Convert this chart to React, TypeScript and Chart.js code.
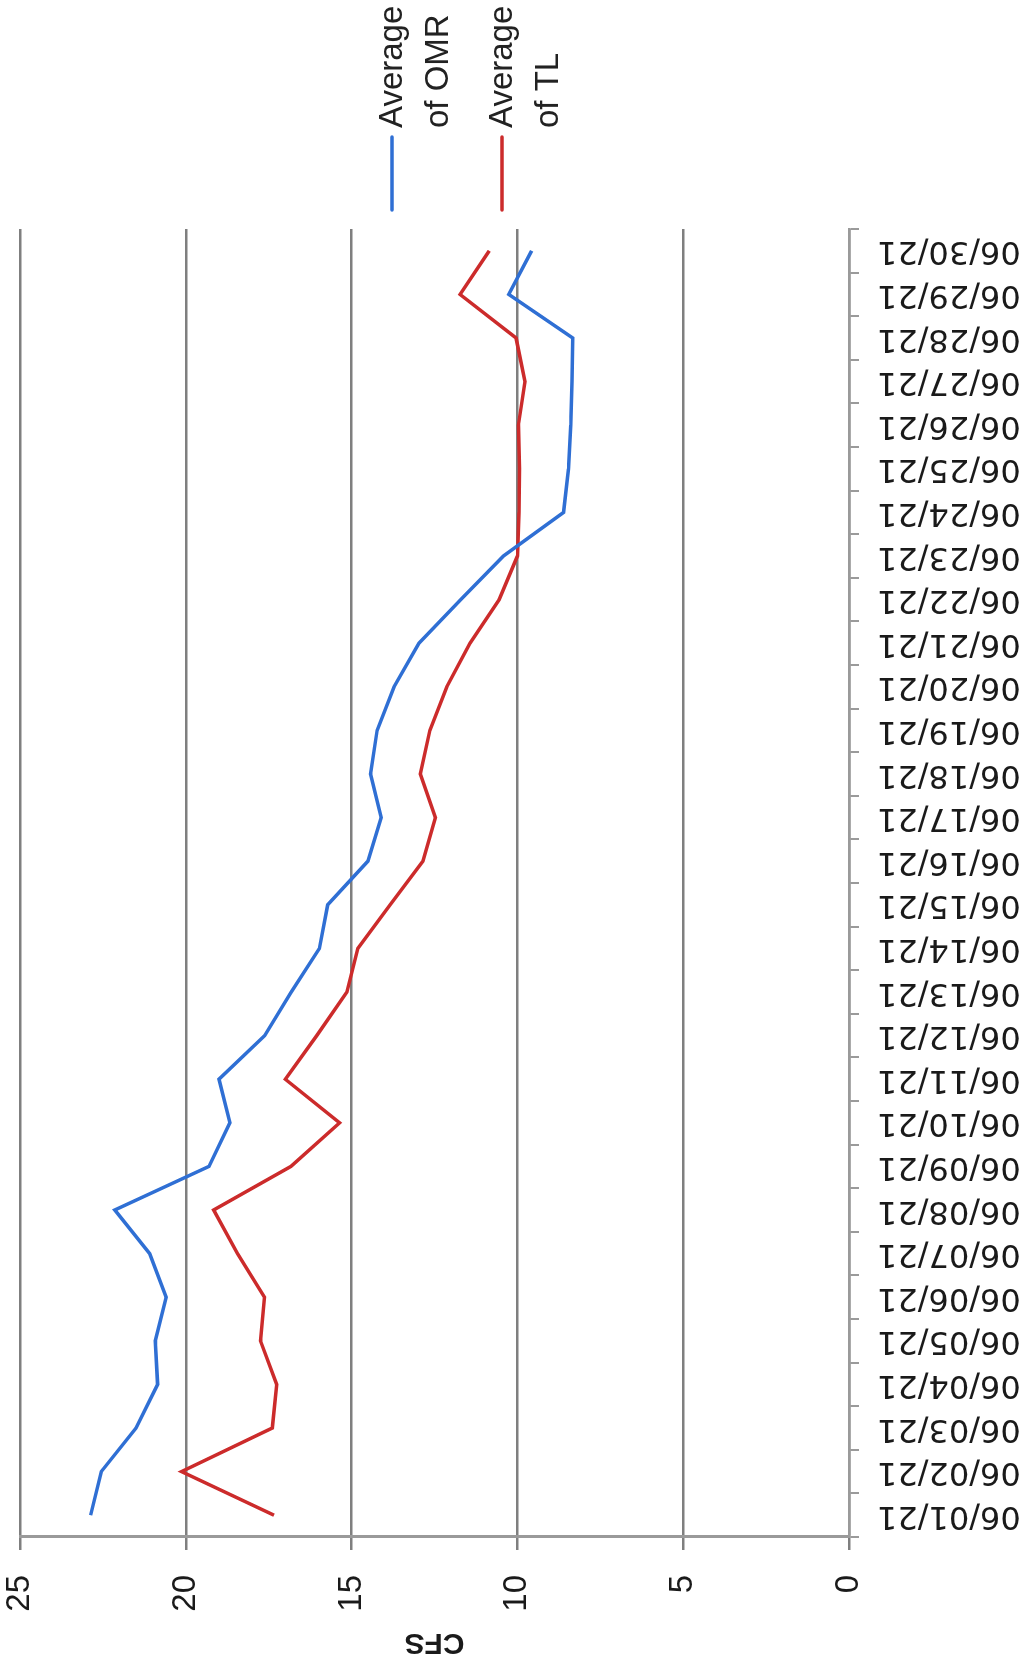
import React, { useEffect, useRef } from "react";
import { Chart, registerables } from "chart.js";

Chart.register(...registerables);

const dates = [
  "06/01/21", "06/02/21", "06/03/21", "06/04/21", "06/05/21", "06/06/21",
  "06/07/21", "06/08/21", "06/09/21", "06/10/21", "06/11/21", "06/12/21",
  "06/13/21", "06/14/21", "06/15/21", "06/16/21", "06/17/21", "06/18/21",
  "06/19/21", "06/20/21", "06/21/21", "06/22/21", "06/23/21", "06/24/21",
  "06/25/21", "06/26/21", "06/27/21", "06/28/21", "06/29/21", "06/30/21",
];

const omrValues = [
  22.87, 22.55, 21.5, 20.85, 20.92, 20.59, 21.09, 22.14, 19.3, 18.67,
  19.0, 17.62, 16.82, 15.97, 15.72, 14.51, 14.11, 14.43, 14.23, 13.72,
  12.97, 11.71, 10.42, 8.61, 8.46, 8.39, 8.35, 8.33, 10.26, 9.57,
];

const tlValues = [
  17.34, 20.13, 17.39, 17.26, 17.75, 17.63, 18.44, 19.16, 16.83, 15.36,
  17.0, 16.05, 15.14, 14.81, 13.84, 12.85, 12.47, 12.93, 12.64, 12.13,
  11.43, 10.55, 10.0, 9.95, 9.94, 9.97, 9.77, 10.04, 11.73, 10.85,
];

const seriesNames = ["Average of OMR", "Average of TL"];
const seriesColors = ["#2f6fd4", "#cc2b2b"];
const valueTicks = [0, 5, 10, 15, 20, 25];
const axisTitle = "CFS";

const W = 1667;
const H = 1029;

const legendPlugin = {
  id: "wrappedLegend",
  afterDraw(chart: any) {
    const ctx = chart.ctx;
    const area = chart.chartArea;
    ctx.save();
    chart.data.datasets.forEach((ds: any, i: number) => {
      const cy = 392 + i * 110;
      const x0 = area.right + 19;
      ctx.strokeStyle = ds.borderColor;
      ctx.lineWidth = 3.5;
      ctx.lineCap = "round";
      ctx.beginPath();
      ctx.moveTo(x0, cy);
      ctx.lineTo(x0 + 73, cy);
      ctx.stroke();
      const label: string = ds.label;
      const sp = label.indexOf(" ");
      const lines = sp > 0 ? [label.slice(0, sp), label.slice(sp + 1)] : [label];
      ctx.fillStyle = "#222";
      ctx.font = "33px 'Liberation Sans', Arial, sans-serif";
      ctx.textAlign = "left";
      ctx.textBaseline = "middle";
      lines.forEach((ln, j) => {
        ctx.fillText(ln, x0 + 82, cy + 1 + j * 46);
      });
    });
    ctx.restore();
  },
};

export default function App() {
  const ref = useRef<HTMLCanvasElement | null>(null);

  useEffect(() => {
    if (!ref.current) return;
    const chart = new Chart(ref.current, {
      type: "line",
      data: {
        labels: dates,
        datasets: [
          {
            label: seriesNames[0],
            data: omrValues,
            borderColor: seriesColors[0],
            backgroundColor: seriesColors[0],
            borderWidth: 3.5,
            pointRadius: 0,
            tension: 0,
          },
          {
            label: seriesNames[1],
            data: tlValues,
            borderColor: seriesColors[1],
            backgroundColor: seriesColors[1],
            borderWidth: 3.5,
            pointRadius: 0,
            tension: 0,
          },
        ],
      },
      options: {
        animation: false,
        responsive: false,
        devicePixelRatio: 1,
        layout: { padding: { top: 20, right: 229, left: 0, bottom: 0 } },
        plugins: {
          legend: { display: false },
          tooltip: { enabled: false },
        },
        scales: {
          x: {
            type: "category",
            offset: true,
            grid: {
              display: true,
              offset: true,
              drawOnChartArea: false,
              drawTicks: true,
              tickLength: 10,
              color: "#9a9a9a",
              lineWidth: 2,
            },
            border: { display: true, color: "#9a9a9a", width: 2.5 },
            ticks: {
              autoSkip: false,
              minRotation: 90,
              maxRotation: 90,
              padding: 18,
              color: "#1a1a1a",
              font: { family: "'DejaVu Sans', Verdana, sans-serif", size: 32 },
            },
            afterFit: (scale: any) => {
              scale.height = 180;
              scale.paddingLeft = 0;
              scale.paddingRight = 0;
            },
          },
          y: {
            min: 0,
            max: 25,
            afterBuildTicks: (scale: any) => {
              scale.ticks = valueTicks.map((v) => ({ value: v }));
            },
            grid: {
              color: "#7f7f7f",
              lineWidth: 2.5,
              drawTicks: true,
              tickLength: 13,
            },
            border: { display: true, color: "#9a9a9a", width: 3 },
            ticks: {
              padding: 25,
              color: "#1a1a1a",
              font: { family: "'Liberation Sans', Arial, sans-serif", size: 33, lineHeight: 1.0 },
            },
            title: {
              display: true,
              text: axisTitle,
              color: "#1a1a1a",
              padding: { top: 7, bottom: 0 },
              font: { family: "'Liberation Sans', Arial, sans-serif", size: 30, weight: "bold" },
            },
            afterFit: (scale: any) => {
              scale.width = 130;
              scale.paddingTop = 0;
              scale.paddingBottom = 0;
            },
          },
        },
      },
      plugins: [legendPlugin],
    } as any);
    return () => chart.destroy();
  }, []);

  return (
    <div
      style={{
        position: "absolute",
        top: 0,
        left: 0,
        width: H + "px",
        height: W + "px",
        overflow: "hidden",
        background: "#fff",
      }}
    >
      <div
        style={{
          position: "absolute",
          top: 0,
          left: 0,
          width: W + "px",
          height: H + "px",
          transformOrigin: "0 0",
          transform: `translateY(${W}px) rotate(-90deg)`,
          background: "#fff",
        }}
      >
        <canvas ref={ref} width={W} height={H} style={{ width: W + "px", height: H + "px", display: "block" }} />
      </div>
    </div>
  );
}
